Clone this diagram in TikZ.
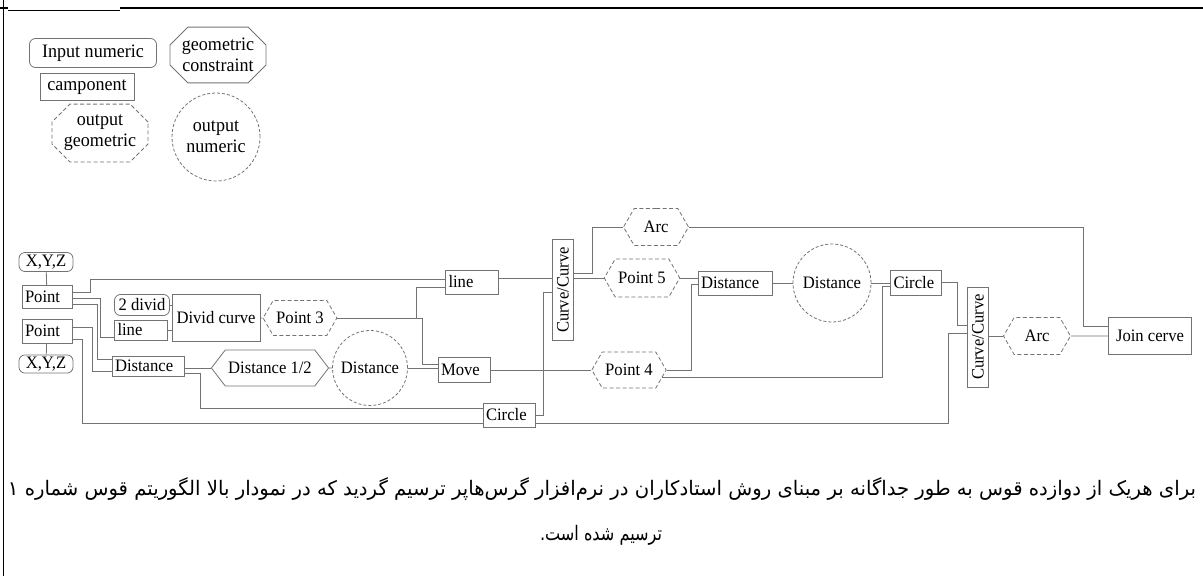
\documentclass[tikz,border=0pt]{standalone}
\usepackage{fontspec}
\setmainfont{Liberation Serif}[FakeStretch=0.95]
\newfontfamily\persfont[Script=Arabic]{DejaVu Sans}
\usepackage{graphicx}
\usepackage{tikz}
\usetikzlibrary{shapes.misc,shapes.symbols}
\TeXXeTstate=1
\definecolor{wiregray}{gray}{0.45}
\tikzstyle{wire} = [draw=wiregray, line width=0.8pt]
\tikzstyle{comp} = [draw=wiregray, line width=0.8pt, inner xsep=3pt, inner ysep=2pt, align=left, font=\fontsize{17.5}{19}\selectfont]
\tikzstyle{innum} = [comp, rounded corners=6pt, align=center]
\tikzstyle{outgeo} = [comp, signal, signal to=west and east, signal pointer angle=120, dash pattern=on 4pt off 2.5pt, align=center]
\tikzstyle{geocon} = [comp, signal, signal to=west and east, signal pointer angle=105, align=center]
\tikzstyle{geooct} = [comp, chamfered rectangle, chamfered rectangle xsep=9pt, chamfered rectangle ysep=9pt, align=center]
\tikzstyle{outnum} = [comp, circle, dash pattern=on 3pt off 2pt, align=center]
\tikzstyle{lgfont} = [font=\fontsize{19}{21}\selectfont]
\tikzstyle{capfont} = [font=\persfont\fontsize{20}{22}\selectfont]

\begin{document}
\begin{tikzpicture}[yscale=-1]
			\useasboundingbox (0pt,0pt) rectangle (1203pt,576pt);
			\draw[line width=1.5pt] (3.5pt,0pt) -- (3.5pt,576pt);
			\draw[line width=2pt] (0pt,8pt) -- (8pt,8pt);
			\draw[line width=0.8pt] (8pt,10pt) -- (120pt,10pt);
			\draw[line width=2pt] (120pt,8pt) -- (1203pt,8pt);
			% legend
			\node (lgin) at (93pt,53pt)[innum, lgfont, minimum width=127pt, minimum height=29pt]{Input numeric};
			\node (lgcon) at (218pt,55pt)[geooct, lgfont, minimum width=94pt, minimum height=50pt]{geometric\\constraint};
			\node (lgcomp) at (87pt,87pt)[comp, lgfont, minimum width=94pt, minimum height=27pt, align=center]{camponent};
			\node (lgoutg) at (100pt,133pt)[geooct, lgfont, dash pattern=on 4pt off 2.5pt, minimum width=94pt, minimum height=51pt]{output\\geometric};
			\node (lgoutn) at (216pt,137pt)[outnum, lgfont, minimum size=88pt]{output\\numeric};
			% inputs
			\node (xyz1) at (46pt,262pt)[innum, minimum width=54pt, minimum height=19pt]{X,Y,Z};
			\node (pt1) at (47pt,297pt)[comp, text width=44pt, minimum height=23pt]{Point};
			\node (pt2) at (47pt,331pt)[comp, text width=44pt, minimum height=24pt]{Point};
			\node (xyz2) at (46pt,364pt)[innum, minimum width=54pt, minimum height=18pt]{X,Y,Z};
			\node (div2) at (142pt,305pt)[innum, minimum width=55pt, minimum height=21pt]{2 divid};
			\node (ln1) at (141pt,330pt)[comp, text width=47pt, minimum height=20pt]{line};
			\node (dcurve) at (216pt,318pt)[comp, minimum width=88pt, minimum height=47pt, align=center]{Divid curve};
			\node (dist1) at (148pt,366pt)[comp, text width=66pt, minimum height=20pt]{Distance};
			% middle
			\node (half) at (270pt,368pt)[geocon, minimum width=106pt, minimum height=36pt]{Distance 1/2};
			\node (pnt3) at (300pt,318pt)[outgeo, minimum width=65pt, minimum height=35pt]{Point 3};
			\node (dcirc1) at (370pt,368pt)[outnum, minimum size=75pt]{Distance};
			\node (move) at (464pt,370pt)[comp, text width=46pt, minimum height=25pt]{Move};
			\node (ln2) at (472pt,282pt)[comp, text width=47pt, minimum height=24pt]{line};
			\node (circ1) at (509pt,415pt)[comp, text width=46pt, minimum height=24pt]{Circle};
			\node (cc1) at (563pt,290pt)[comp, rotate=90, minimum width=101pt, minimum height=21pt, align=center]{Curve/Curve};
			\node (arc1) at (656pt,227pt)[outgeo, minimum width=65pt, minimum height=37pt]{Arc};
			\node (pnt5) at (642pt,278pt)[outgeo, minimum width=66pt, minimum height=38pt]{Point 5};
			\node (pnt4) at (629pt,370pt)[outgeo, minimum width=67pt, minimum height=36pt]{Point 4};
			% right
			\node (dist2) at (735pt,283pt)[comp, text width=68pt, minimum height=24pt]{Distance};
			\node (dcirc2) at (832pt,283pt)[outnum, minimum size=78pt]{Distance};
			\node (circ2) at (916pt,283pt)[comp, text width=45pt, minimum height=25pt]{Circle};
			\node (cc2) at (978pt,337pt)[comp, rotate=90, minimum width=100pt, minimum height=21pt, align=center]{Curve/Curve};
			\node (arc2) at (1037pt,336pt)[outgeo, minimum width=67pt, minimum height=37pt]{Arc};
			\node (join) at (1150pt,336pt)[comp, minimum width=83pt, minimum height=37pt, align=center]{Join cerve};
			% wires
			\draw[wire] (xyz1) -- (pt1);
			\draw[wire] (pt2) -- (xyz2);
			\draw[wire] (pt1.east |- 0,292pt) -| (90pt,279pt) -- (ln2.west |- 0,279pt);
			\draw[wire] (pt1.east |- 0,298pt) -| (100pt,337pt) -- (ln1.west |- 0,337pt);
			\draw[wire] (pt1.east |- 0,304pt) -| (97pt,359pt) -- (dist1.west |- 0,359pt);
			\draw[wire] (pt2.east |- 0,327pt) -| (92pt,371pt) -- (dist1.west |- 0,371pt);
			\draw[wire] (pt2.east |- 0,339pt) -| (82pt,423pt) -- (circ1.west |- 0,423pt);
			\draw[wire] (circ1.east |- 0,423pt) -| (948pt,333pt) -- (cc2.north |- 0,333pt);
			\draw[wire] (div2) -- (dcurve.west |- div2);
			\draw[wire] (ln1) -- (dcurve.west |- ln1);
			\draw[wire] (dcurve) -- (pnt3);
			\draw[wire] (pnt3.east) -| (416pt,287pt) -- (ln2.west |- 0,287pt);
			\draw[wire] (pnt3.east) -| (422pt,364pt) -- (move.west |- 0,364pt);
			\draw[wire] (dist1.east |- half) -- (half.west);
			\draw[wire] (dist1.east |- 0,373pt) -| (200pt,408pt) -- (circ1.west |- 0,408pt);
			\draw[wire] (half) -- (dcirc1);
			\draw[wire] (dcirc1) -- (move.west |- dcirc1);
			\draw[wire] (move) -- (pnt4);
			\draw[wire] (ln2.east |- 0,278pt) -- (cc1.north |- 0,278pt);
			\draw[wire] (circ1.east |- 0,415pt) -| (543pt,292pt) -- (cc1.north |- 0,292pt);
			\draw[wire] (cc1.south |- 0,273pt) -| (592pt,227pt) -- (arc1.west);
			\draw[wire] (cc1.south |- pnt5) -- (pnt5.west);
			\draw[wire] (pnt5.east) -- (dist2.west |- pnt5);
			\draw[wire] (pnt4.east) -| (691pt,284pt) -- (dist2.west |- 0,284pt);
			\draw[wire] (pnt4.-13) -| (882pt,286pt) -- (circ2.west |- 0,286pt);
			\draw[wire] (dist2) -- (dcirc2);
			\draw[wire] (dcirc2) -- (circ2);
			\draw[wire] (circ2.east |- 0,282pt) -| (957pt,325pt) -- (cc2.north |- 0,325pt);
			\draw[wire] (cc2.south |- arc2) -- (arc2.west);
			\draw[wire] (arc2) -- (join);
			\draw[wire] (arc1.east) -| (1083pt,326pt) -- (join.west |- 0,326pt);
			% caption
			\node (cap1) at (602pt,489pt)[capfont]{\resizebox{1188pt}{\height}{\beginR برای هریک از دوازده قوس به طور جداگانه بر مبنای روش استادکاران در نرم‌افزار گرس‌هاپر ترسیم گردید که در نمودار بالا الگوریتم قوس شماره ۱\endR}};
			\node (cap2) at (601pt,535pt)[capfont]{\resizebox{122pt}{\height}{\beginR ترسیم شده است.\endR}};
		\end{tikzpicture}
\end{document}
